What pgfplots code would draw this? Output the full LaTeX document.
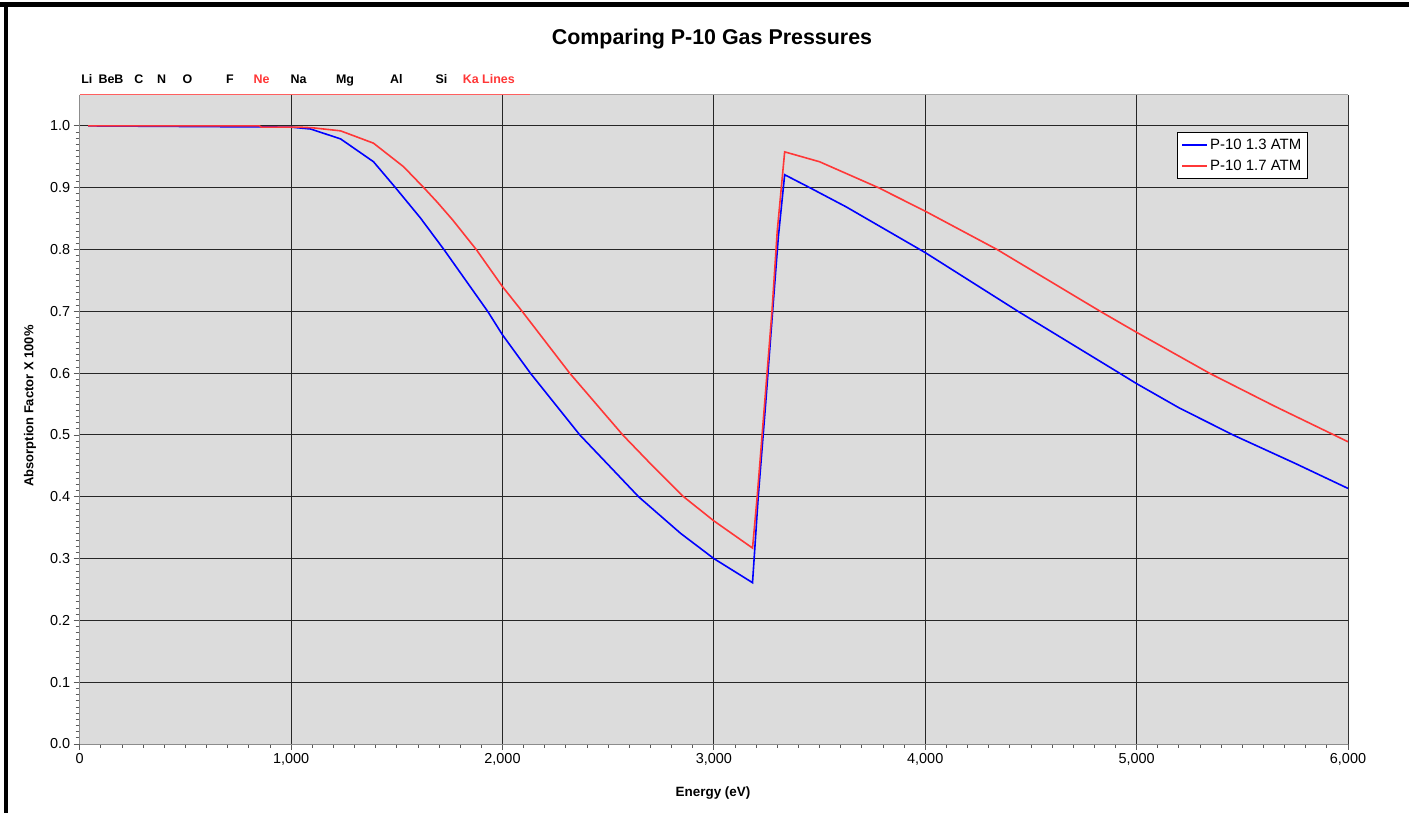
\documentclass[border=0pt]{standalone}
\usepackage{pgfplots}
\pgfplotsset{compat=1.18}
\usepackage{fontspec}
\setmainfont{Liberation Sans}

\definecolor{bggray}{RGB}{220,220,220}
\definecolor{pblue}{RGB}{0,0,255}
\definecolor{pred}{RGB}{255,55,55}

\pgfplotstableread{
E      A
40     1.000
1000   0.998
1092   0.995
1234   0.979
1390   0.942
1494   0.900
1612   0.851
1723   0.800
1930   0.700
2000   0.662
2132   0.600
2366   0.500
2508   0.449
2644   0.400
2842   0.341
3000   0.300
3183   0.261
3210   0.400
3245   0.550
3278   0.700
3305   0.820
3335   0.921
3454   0.900
3626   0.869
4000   0.795
4439   0.700
4919   0.600
5000   0.583
5200   0.544
5456   0.500
5750   0.454
6000   0.4135
}\lowp

\pgfplotstableread{
E      A
40     1.000
850    1.000
860    0.998
1040   0.998
1100   0.997
1234   0.992
1390   0.972
1532   0.934
1628   0.900
1693   0.876
1764   0.848
1876   0.800
2000   0.740
2093   0.700
2318   0.600
2569   0.500
2710   0.450
2857   0.400
3000   0.361
3183   0.317
3205   0.400
3240   0.550
3275   0.700
3300   0.830
3335   0.958
3500   0.942
3779   0.900
4000   0.862
4340   0.800
4828   0.700
5000   0.666
5344   0.600
5650   0.547
6000   0.489
}\highp

\begin{document}
\begin{tikzpicture}
\useasboundingbox (0bp,0bp) rectangle (1409bp,813bp);
\fill[white] (0bp,0bp) rectangle (1409bp,813bp);
\fill[black] (0bp,806bp) rectangle (1409bp,811bp);
\fill[black] (3.5bp,0bp) rectangle (7.5bp,811bp);

\begin{axis}[
    at={(79.7bp,69bp)}, anchor=south west,
    scale only axis,
    width=1268.3bp, height=649bp,
    xmin=0, xmax=6000, ymin=0, ymax=1.05,
    axis background/.style={fill=bggray},
    axis x line*=bottom, axis y line*=left,
    axis line style={draw=black!45, line width=1bp},
    xtick={0,1000,...,6000},
    ytick={0,0.1,...,1.0},
    minor x tick num=9, minor y tick num=9,
    tick align=outside,
    major tick length=6bp, minor tick length=4bp,
    tick style={draw=black!65, line width=0.8bp},
    grid=major,
    major grid style={draw=black!85, line width=0.9bp},
    scaled x ticks=false, scaled y ticks=false,
    /pgf/number format/assume math mode=true,
    xticklabel style={/pgf/number format/1000 sep={,}},
    yticklabel style={/pgf/number format/.cd, fixed, fixed zerofill, precision=1},
    tick label style={font=\fontsize{14.5}{17}\selectfont},
    legend style={at={(0.865,0.9425)}, anchor=north west, draw=black,
        fill=white, line width=0.8bp,
        font=\fontsize{15}{17}\selectfont,
        inner xsep=4bp, inner ysep=4.5bp, row sep=4.5bp,
        /tikz/every even column/.append style={column sep=2bp}},
    legend cell align=left,
    legend image code/.code={\draw[#1, line width=2bp] (0bp,0bp) -- (25bp,0bp);},
]
\draw[black!40, line width=1bp] (axis cs:6000,0) -- (axis cs:6000,1.05);
\draw[pred!80, line width=1bp] (axis cs:0,1.05) -- (axis cs:6000,1.05);
\draw[black!35, line width=1bp] (axis cs:2128,1.0515) -- (axis cs:6000,1.0515);
\addplot[pblue, line width=1.6bp] table[x=E, y=A] {\lowp};
\addlegendentry{P-10 1.3 ATM}
\addplot[pred, line width=1.6bp] table[x=E, y=A] {\highp};
\addlegendentry{P-10 1.7 ATM}
\end{axis}

\node[font=\fontsize{21.5}{24}\selectfont\bfseries] at (712bp,774bp) {Comparing P-10 Gas Pressures};
\node[font=\fontsize{13.5}{15}\selectfont\bfseries] at (713bp,20bp) {Energy (eV)};
\node[font=\fontsize{13}{15}\selectfont\bfseries, rotate=90] at (30bp,407bp) {Absorption Factor X 100\%};

\begin{scope}[every node/.style={font=\fontsize{12.5}{14}\selectfont\bfseries, anchor=base, inner sep=0pt}]
\node at (86.8bp,729.7bp) {Li};
\node at (111bp,729.7bp) {BeB};
\node at (138.8bp,729.7bp) {C};
\node at (161.6bp,729.7bp) {N};
\node at (187.5bp,729.7bp) {O};
\node at (230bp,729.7bp) {F};
\node[text=pred] at (261.6bp,729.7bp) {Ne};
\node at (298.6bp,729.7bp) {Na};
\node at (345bp,729.7bp) {Mg};
\node at (396.4bp,729.7bp) {Al};
\node at (441.4bp,729.7bp) {Si};
\node[text=pred] at (488.8bp,729.7bp) {Ka Lines};
\end{scope}
\end{tikzpicture}
\end{document}
